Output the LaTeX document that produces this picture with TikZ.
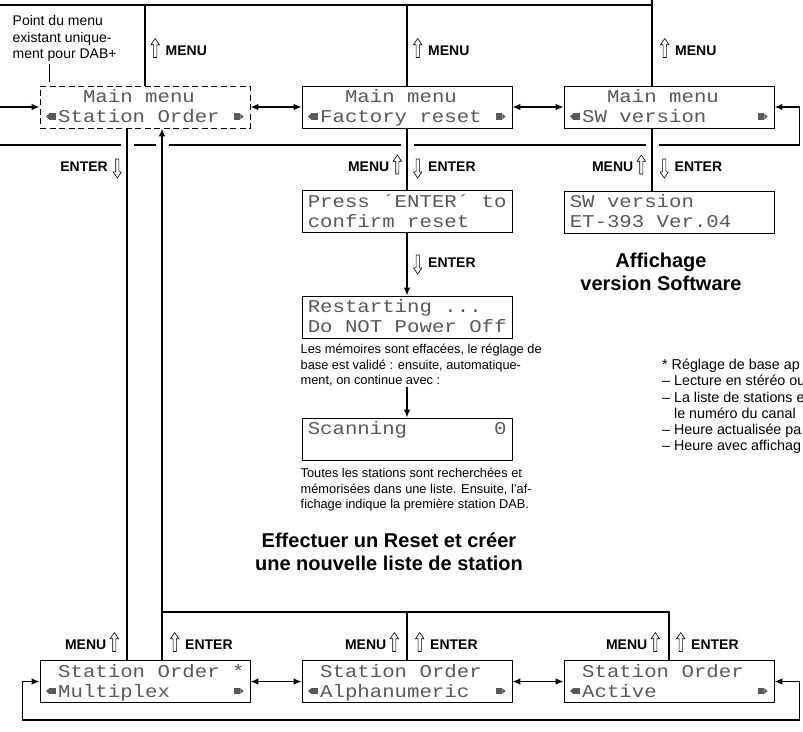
\documentclass[tikz,border=0pt]{standalone}
\usepackage{fontspec}
\setmainfont{Liberation Sans}
\newfontfamily\lcdfont[FakeStretch=1.15]{Liberation Mono}
\usetikzlibrary{positioning,arrows.meta}

% hollow key arrows
\newcommand{\hup}{\tikz[x=1pt,y=1pt,baseline=0pt,line width=0.6pt]
  \draw (-1.6,-2.5) -- (-1.6,10.3) -- (-4.2,10.3) -- (0,16.5) -- (4.2,10.3) -- (1.6,10.3) -- (1.6,-2.5) -- cycle;}
\newcommand{\hdown}{\tikz[x=1pt,y=1pt,baseline=0pt,line width=0.6pt]
  \draw (-1.6,12.5) -- (-1.6,-0.3) -- (-4.2,-0.3) -- (0,-6.5) -- (4.2,-0.3) -- (1.6,-0.3) -- (1.6,12.5) -- cycle;}
% scroll marks and blank cell of the display
\newcommand{\lcdl}{\tikz[x=1pt,y=1pt,baseline=0pt]{\path (0,0) rectangle (12.4,9);
  \fill (0.3,6) -- (3.3,8.8) -- (3.3,3.2) -- cycle; \fill (3.6,2.8) rectangle (10.2,9.2);}}
\newcommand{\lcdr}{\tikz[x=1pt,y=1pt,baseline=0pt]{\path (0,0) rectangle (12.4,9);
  \fill (1.5,2.8) rectangle (8,9.2); \fill (8.3,3.2) -- (8.3,8.8) -- (11.5,6) -- cycle;}}
\newcommand{\blk}{\hphantom{0}}
\newcommand{\lcd}[2]{\rule{0pt}{16pt}#1\\\leavevmode#2\rule[-5pt]{0pt}{5pt}}

\begin{document}
\begin{tikzpicture}[x=1pt, y=-1pt, >={Latex[length=8pt,width=6.5pt]},
  lcdbox/.style={draw, line width=0.9pt, fill=white, text=black!65,
    font=\lcdfont\fontsize{18}{20}\selectfont, align=left,
    text width=198.4pt, inner xsep=5.8pt, inner ysep=0pt, minimum height=42pt},
  dabonly/.style={lcdbox, dash pattern=on 6pt off 3.5pt},
  btn/.style={font=\bfseries\fontsize{14}{16}\selectfont, inner sep=0pt},
  remark/.style={font=\fontsize{12.8}{15.6}\selectfont, align=left, inner sep=0pt},
  heading/.style={font=\bfseries\fontsize{20}{23}\selectfont, align=center, inner sep=0pt},
  wire/.style={line width=1.1pt},
  bridge/.style={preaction={draw=white, line width=13pt, -, shorten <=6pt, shorten >=6pt}}
]
\useasboundingbox (0,0) rectangle (803,731);

% main menu
\node[dabonly] (mmStation) at (145,107) {\lcd{\blk\blk\blk Main\blk menu}{\lcdl Station\blk Order\blk\lcdr}};
\node[lcdbox] (mmReset) at (407,107) {\lcd{\blk\blk\blk Main\blk menu}{\lcdl Factory\blk reset\blk\lcdr}};
\node[lcdbox] (mmSW) at (669,107) {\lcd{\blk\blk\blk Main\blk menu}{\lcdl SW\blk version\blk\blk\blk\blk\lcdr}};

% factory reset
\node[lcdbox] (confirm) at (407,211.5) {\lcd{Press\blk´ENTER´\blk to}{confirm\blk reset}};
\node[lcdbox] (restart) at (407,317) {\lcd{Restarting\blk...}{Do\blk NOT\blk Power\blk Off}};
\node[remark, anchor=north west] (erased) at (300.5,344) {Les mémoires sont effacées, le réglage de\\base est validé : ensuite, automatique-\\ment, on continue avec :};
\node[lcdbox] (scan) at (407,439) {\lcd{Scanning\blk\blk\blk\blk\blk\blk\blk 0}{}};
\node[remark, anchor=north west] (listed) at (300.5,468) {Toutes les stations sont recherchées et\\mémorisées dans une liste. Ensuite, l’af-\\fichage indique la première station DAB.};
\node[heading] (resetTitle) at (389,552) {Effectuer un Reset et créer\\une nouvelle liste de station};

% software version
\node[lcdbox] (sw) at (669,212) {\lcd{SW\blk version}{ET-393\blk Ver.04}};
\node[heading] (swTitle) at (661,272) {Affichage\\version Software};
\node[remark, font=\fontsize{14.3}{16.2}\selectfont, anchor=north west] (defaults) at (662,359) {* Réglage de base ap\\– Lecture en stéréo ou\\– La liste de stations e\\\phantom{– }le numéro du canal\\– Heure actualisée pa\\– Heure avec affichag};

% station order
\node[lcdbox] (soMux) at (145,681.5) {\lcd{\blk Station\blk Order\blk *}{\lcdl Multiplex\blk\blk\blk\blk\blk\lcdr}};
\node[lcdbox] (soAlpha) at (407,681.5) {\lcd{\blk Station\blk Order}{\lcdl Alphanumeric\blk\blk\lcdr}};
\node[lcdbox] (soActive) at (669,681.5) {\lcd{\blk Station\blk Order}{\lcdl Active\blk\blk\blk\blk\blk\blk\blk\blk\lcdr}};

\node[remark, font=\fontsize{14}{16.5}\selectfont, anchor=north west] (dabNote) at (12.5,15.5) {Point du menu\\existant unique-\\ment pour DAB+};
\coordinate (dabTick) at (49,64);
\draw[line width=0.6pt] (dabTick) -- ++(0,18);

% MENU lines to the top
\coordinate (topL) at (0,5);
\coordinate (topR) at (652,-5);
\draw[wire] (topL) -- (topL -| topR);
\draw[wire] (topR) -- (topR |- mmSW.north);
\draw[wire] (mmStation.north) -- (mmStation.north |- topL);
\draw[wire] (mmReset.north) -- (mmReset.north |- topL);

% scrolling in the main menu
\coordinate (loopIn) at (0,107);
\coordinate (loopOut) at (0,145);
\draw[wire, ->] (loopIn) -- (mmStation.west);
\draw[wire, <-] (mmSW.east) -- ++(25,0) |- (loopOut);
\draw[wire, <->] (mmStation) -- (mmReset);
\draw[wire, <->] (mmReset) -- (mmSW);

% ENTER / MENU lines
\draw[wire, bridge] ([xshift=-18pt]mmStation.south) -- ([xshift=-18pt]soMux.north);
\draw[wire, bridge, ->] ([xshift=17pt]soMux.north) -- ([xshift=17pt]mmStation.south);
\draw[wire, bridge] (mmReset) -- (confirm);
\draw[wire, bridge] ([xshift=-17pt]mmSW.south) -- ([xshift=-17pt]sw.north);
\draw[wire, ->] (confirm) -- (restart);
\draw[wire, ->] (scan.north |- erased.south) -- (scan);

\coordinate (fork) at (162,612);
\draw[wire] (fork) -| (soActive.north);
\draw[wire] (soAlpha.north) -- (soAlpha.north |- fork);

% scrolling in the station order
\draw[wire, <->] (soMux) -- (soAlpha);
\draw[wire, <->] (soAlpha) -- (soActive);
\draw[wire, <->] (soMux.west) -- ++(-17,0) -- ++(0,38.5) -| ([xshift=25pt]soActive.east) -- (soActive.east);

% key labels
\node[btn, anchor=base west] at (150.5,55) {\hup\hspace{6pt}MENU};
\node[btn, anchor=base west] at (413,55) {\hup\hspace{6pt}MENU};
\node[btn, anchor=base west] at (660,55) {\hup\hspace{6pt}MENU};
\node[btn, anchor=base east] at (122,171.5) {ENTER\hspace{5pt}\hdown};
\node[btn, anchor=base east] at (402,171.5) {MENU\hspace{3.5pt}\hup};
\node[btn, anchor=base west] at (413,171.5) {\hdown\hspace{6pt}ENTER};
\node[btn, anchor=base east] at (646,171.5) {MENU\hspace{3.5pt}\hup};
\node[btn, anchor=base west] at (659.5,171.5) {\hdown\hspace{6pt}ENTER};
\node[btn, anchor=base west] at (413,267.5) {\hdown\hspace{6pt}ENTER};
\node[btn, anchor=base east] at (119,649) {MENU\hspace{3.5pt}\hup};
\node[btn, anchor=base west] at (170,649) {\hup\hspace{6pt}ENTER};
\node[btn, anchor=base east] at (399,649) {MENU\hspace{3.5pt}\hup};
\node[btn, anchor=base west] at (415,649) {\hup\hspace{6pt}ENTER};
\node[btn, anchor=base east] at (660,649) {MENU\hspace{3.5pt}\hup};
\node[btn, anchor=base west] at (676,649) {\hup\hspace{6pt}ENTER};
\end{tikzpicture}
\end{document}
